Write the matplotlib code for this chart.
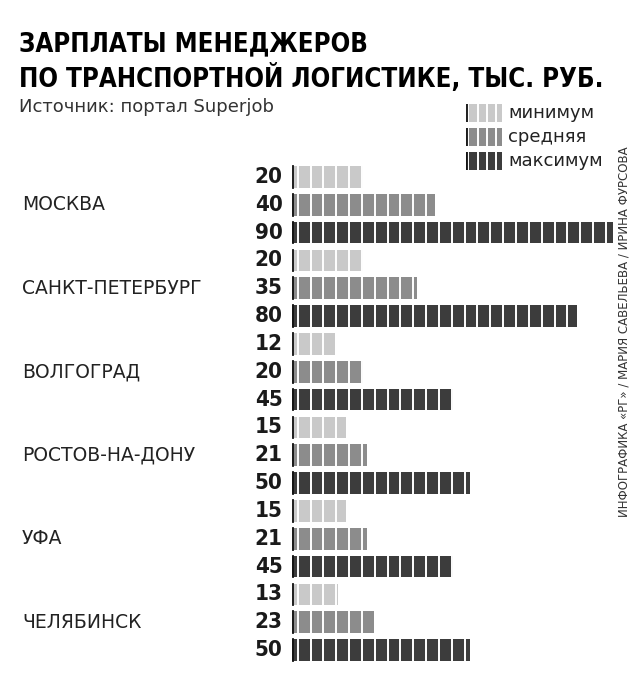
import numpy as np
import matplotlib.pyplot as plt

cities = ["МОСКВА", "САНКТ-ПЕТЕРБУРГ", "ВОЛГОГРАД", "РОСТОВ-НА-ДОНУ", "УФА", "ЧЕЛЯБИНСК"]
minimum = [20, 20, 12, 15, 15, 13]
average = [40, 35, 20, 21, 21, 23]
maximum = [90, 80, 45, 50, 45, 50]
series_names = ["минимум", "средняя", "максимум"]
colors = ["#c9c9c9", "#8c8c8c", "#3c3c3c"]

plt.rcParams["font.family"] = "DejaVu Sans"
fig = plt.figure(figsize=(6.4, 6.92), dpi=100)
fig.patch.set_facecolor("white")

# title block
fig.text(0.03, 0.955, "ЗАРПЛАТЫ МЕНЕДЖЕРОВ", fontsize=18.5, fontweight="bold", va="top", stretch="condensed")
fig.text(0.03, 0.907, "ПО ТРАНСПОРТНОЙ ЛОГИСТИКЕ, ТЫС. РУБ.", fontsize=18.5, fontweight="bold", va="top", stretch="condensed")
fig.text(0.03, 0.858, "Источник: портал Superjob", fontsize=13, va="top", color="#333333")

# axes: x in px 292..613 for 0..90
ax = fig.add_axes([292 / 640, 1 - 664 / 692, 321 / 640, (664 - 163) / 692])
ax.set_xlim(0, 90)
n = len(cities)
ax.set_ylim(n * 3 - 0.5, -0.5)
ax.axis("off")

for i, city in enumerate(cities):
    for j, vals in enumerate([minimum, average, maximum]):
        y = i * 3 + j
        v = vals[i]
        ax.barh(y, v, height=0.78, color=colors[j], zorder=1)
        ax.text(-2.6, y, str(v), ha="right", va="center", fontsize=16, fontweight="bold",
                color="#1a1a1a", stretch="condensed")
        # thin black start line
        ax.plot([0.3, 0.3], [y - 0.39, y + 0.39], color="#111111", lw=1.3, zorder=3)
    ax.text(-75.7, i * 3 + 1, city, ha="left", va="center", fontsize=13.5, color="#222222")

# segment the bars into blocks with white gaps
for gx in np.arange(1.6, 90, 3.6):
    ax.axvline(gx, color="white", lw=1.4, zorder=2)

# legend
for j, name in enumerate(series_names):
    y0 = 1 - (113 + j * 24) / 692
    lax = fig.add_axes([466 / 640, y0 - 9 / 692, 36 / 640, 18 / 692])
    lax.set_xlim(0, 4)
    lax.set_ylim(0, 1)
    lax.axis("off")
    lax.bar(2, 1, width=4, color=colors[j], align="center")
    for gx in [0.25, 1.3, 2.3, 3.3]:
        lax.axvline(gx, color="white", lw=1.4)
    lax.axvline(0.1, color="#111111", lw=1.3)
    fig.text(508 / 640, y0, name, fontsize=13, va="center", color="#222222")

fig.text(0.975, 0.52, "ИНФОГРАФИКА «РГ» / МАРИЯ САВЕЛЬЕВА / ИРИНА ФУРСОВА",
         rotation=90, fontsize=8.5, ha="center", va="center", color="#333333")

fig.savefig("out.png", dpi=100, facecolor="white")
